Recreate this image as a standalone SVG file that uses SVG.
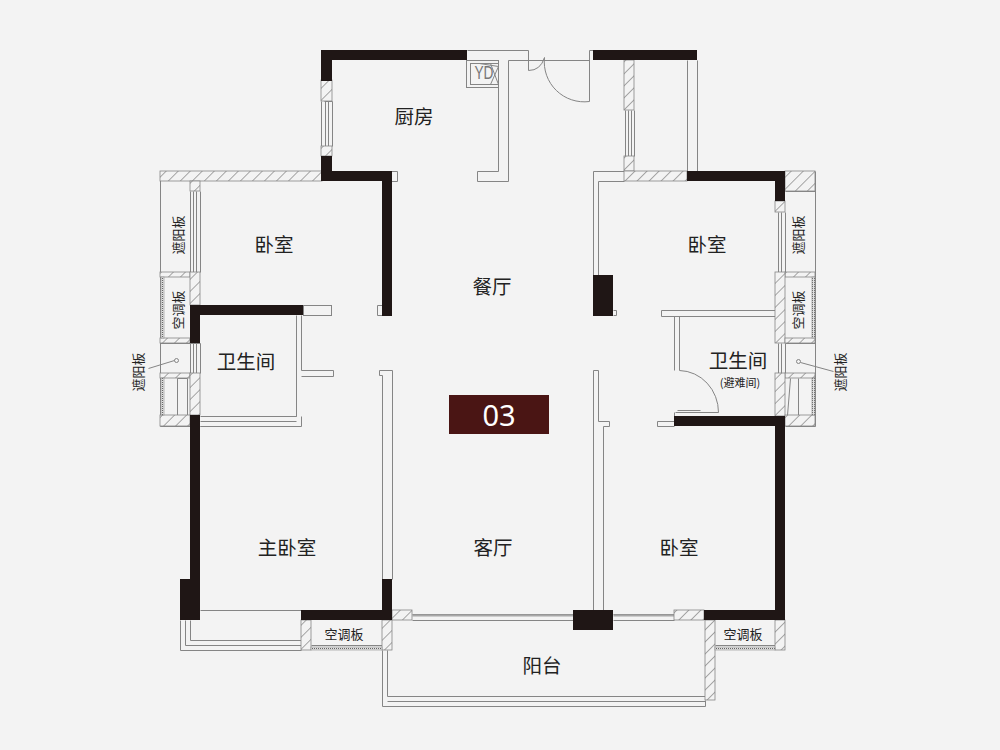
<svg xmlns="http://www.w3.org/2000/svg" width="1000" height="750" viewBox="0 0 1000 750">
<style>
.w{fill:#1f1615}
.l{fill:none;stroke:#858585;stroke-width:1}
.f{fill:#f3f3f3;stroke:#858585;stroke-width:1}
.h{fill:url(#hatch);stroke:#858585;stroke-width:.8}
.s{fill:url(#stip);stroke:#8c8c8c;stroke-width:.6}
text{font-family:"Noto Sans CJK SC","Noto Sans",sans-serif;fill:#222;text-anchor:middle;dominant-baseline:central}
.b{font-size:19.5px}
.m{font-size:13px}
.t{font-size:11px}
</style>
<defs>
<pattern id="hatch" width="8.5" height="8.5" patternUnits="userSpaceOnUse" patternTransform="rotate(45)">
<rect width="8.5" height="8.5" fill="#f3f3f3"/><line x1="0" y1="0" x2="0" y2="8.5" stroke="#666" stroke-width="1.1"/>
</pattern>
<pattern id="stip" width="2" height="2" patternUnits="userSpaceOnUse">
<rect width="2" height="2" fill="#e2e2e2"/><rect width="1" height="1" fill="#666"/>
</pattern>
</defs>
<rect width="1000" height="750" fill="#f3f3f3"/>

<!-- thin walls -->
<g transform="translate(.5 .5)">
<path class="l" d="M467 50H528M467 60H498V171H477V181H508V60H589M589 50V101M593 50H589M528 50V70"/>
<path class="l" d="M391 171H397V181H391"/>
<path class="l" d="M544 57A40 40 0 0 0 589 101M528 70Q540 70 544 57"/>
<rect class="l" x="466" y="60" width="32" height="27"/>
<rect class="l" x="470" y="63" width="28" height="21"/>
<path class="l" d="M479 63L498 66L490 84M490 63L498 84"/>

<path class="l" d="M324 101H332M321 101V146M325 101V146M328 101V146M332 101V146"/>
<path class="l" d="M687 60V171M697 60V171M625 110V156M628 110V156M631 110V156M634 110V156"/>
<path class="l" d="M624 171H593V275M624 181H598V275"/>
<path class="l" d="M382 305H377V315H382M613 310H616V315H613"/>
<path class="l" d="M382 620V375H379V370H392V579"/>
<path class="l" d="M593 610V370H598V421H609V426H603V610"/>

<!-- left side -->
<path class="l" d="M160 171V426H200M190 191V272M160 272H190M160 343H200M190 343V373M160 373H190"/>
<path class="l" d="M193 191V272M196 191V272M200 191V272M193 343V373M196 343V373M200 343V373"/>
<rect class="f" x="303" y="305" width="28" height="10"/>
<path class="l" d="M296 315V416H200M301 315V370H333V376H301M296 376V416M296 421H200M301 416V426H200"/>
<path class="l" d="M177 378V415M187 378H177M187 378V415"/>
<circle class="f" cx="176" cy="360" r="2"/>
<path class="l" d="M174 360L148 368"/>

<!-- right side -->
<path class="l" d="M815 171V426H785M785 191H815M785 272H815M785 343H815M785 373H815M785 212V272M785 343V373"/>
<path class="l" d="M778 212V272M781 212V272M778 343V373M781 343V373"/>
<path class="f" d="M775 310H661V316H775"/>
<path class="l" d="M674 316V370M679 316V370"/>
<path class="l" d="M679 370A40 42 0 0 1 718 412M675 412H718M677 410H700M674 416V412"/>
<path class="l" d="M674 421H657V426H674"/>
<path class="l" d="M798 378V415M790 378L787 415"/>
<circle class="f" cx="798" cy="361" r="2"/>
<path class="l" d="M800 362L833 371"/>

<!-- bottom -->
<path class="l" d="M200 610H301M180 620V650H301M185 620V645H301M190 620V640H301"/>
<path class="l" d="M382 650V706H705V700M387 650V696H705M387 701H705"/>
<path class="l" d="M412 614H573M412 620H573M613 614H674M613 620H674"/>
<path d="M412 615H573M613 615H674" stroke="#a8a8a8" stroke-width="2" fill="none"/>
<path class="l" d="M311 645H382M715 645H775"/>
</g>
<text x="484" y="73" transform="translate(484 73) scale(.72 1) translate(-484 -73)" style="font-size:19px;fill:#777;font-family:'Liberation Sans',sans-serif">YD</text>

<!-- hatched masonry -->
<g>
<rect class="h" x="321" y="80" width="11" height="21"/>
<rect class="h" x="321" y="146" width="11" height="10"/>
<rect class="h" x="624" y="60" width="10" height="50"/>
<rect class="h" x="624" y="156" width="10" height="15"/>
<rect class="h" x="624" y="171" width="63" height="10"/>
<rect class="h" x="160" y="171" width="162" height="10"/>
<rect class="h" x="190" y="181" width="10" height="10"/>
<rect class="h" x="160" y="272" width="30" height="5"/>
<rect class="h" x="190" y="272" width="10" height="33"/>
<rect class="h" x="160" y="338" width="30" height="5"/>
<rect class="h" x="160" y="373" width="30" height="5"/>
<rect class="h" x="190" y="373" width="10" height="42"/>
<rect class="h" x="160" y="415" width="30" height="11"/>
<rect class="h" x="785" y="171" width="30" height="20"/>
<rect class="h" x="775" y="201" width="10" height="11"/>
<rect class="h" x="785" y="272" width="30" height="5"/>
<rect class="h" x="775" y="272" width="10" height="71"/>
<rect class="h" x="785" y="338" width="30" height="5"/>
<rect class="h" x="785" y="373" width="30" height="5"/>
<rect class="h" x="775" y="373" width="10" height="43"/>
<rect class="h" x="785" y="415" width="30" height="11"/>
<rect class="h" x="392" y="610" width="20" height="10"/>
<rect class="h" x="674" y="610" width="30" height="10"/>
<rect class="h" x="301" y="620" width="10" height="30"/>
<rect class="h" x="382" y="620" width="10" height="30"/>
<rect class="h" x="705" y="620" width="10" height="80"/>
<rect class="h" x="775" y="620" width="10" height="30"/>
<rect class="s" x="311" y="647" width="71" height="3"/>
<rect class="s" x="715" y="647" width="60" height="3"/>
<rect class="s" x="161" y="277" width="3" height="61"/>
<rect class="s" x="161" y="378" width="3" height="37"/>
<rect class="s" x="812" y="277" width="3" height="61"/>
<rect class="s" x="812" y="378" width="3" height="37"/>
</g>

<!-- load-bearing walls -->
<g>
<path class="w" d="M321 50H467V60H332V81H321Z"/>
<path class="w" d="M321 156H332V171H392V316H382V181H321Z"/>
<rect class="w" x="593" y="50" width="104" height="10"/>
<path class="w" d="M687 171H785V201H775V181H687Z"/>
<rect class="w" x="593" y="275" width="20" height="41"/>
<path class="w" d="M190 305H303V315H200V343H190Z"/>
<path class="w" d="M190 415H200V620H180V579H190Z"/>
<path class="w" d="M674 416H785V620H704V610H775V426H674Z"/>
<path class="w" d="M301 610H382V579H392V620H301Z"/>
<rect class="w" x="573" y="610" width="40" height="20"/>
</g>

<!-- badge -->
<rect x="449" y="395" width="100" height="39" fill="#4a1514"/>
<text x="499" y="414" style="font-size:29px;fill:#fff;font-family:'Noto Sans',sans-serif">03</text>

<!-- labels -->
<text class="b" x="414" y="115.500">厨房</text>
<text class="b" x="274" y="243.500">卧室</text>
<text class="b" x="492" y="285.500">餐厅</text>
<text class="b" x="707" y="243.500">卧室</text>
<text class="b" x="246" y="360.500">卫生间</text>
<text class="b" x="738" y="359.500">卫生间</text>
<text class="t" x="740" y="381.500">(避难间)</text>
<text class="b" x="287" y="546.500">主卧室</text>
<text class="b" x="493" y="546.500">客厅</text>
<text class="b" x="679" y="546.500">卧室</text>
<text class="b" x="542" y="664.500">阳台</text>
<text class="m" x="344" y="633.500">空调板</text>
<text class="m" x="743" y="633.500">空调板</text>
<text class="m" transform="translate(177 235) rotate(-90)">遮阳板</text>
<text class="m" transform="translate(177 310) rotate(-90)">空调板</text>
<text class="m" transform="translate(137 372) rotate(-90)">遮阳板</text>
<text class="m" transform="translate(797 235) rotate(-90)">遮阳板</text>
<text class="m" transform="translate(797 310) rotate(-90)">空调板</text>
<text class="m" transform="translate(839 372) rotate(-90)">遮阳板</text>
</svg>
